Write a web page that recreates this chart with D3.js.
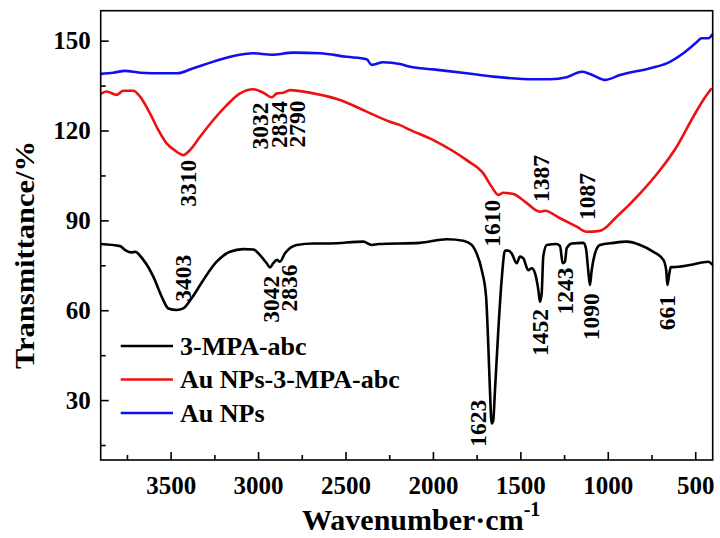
<!DOCTYPE html>
<html>
<head>
<meta charset="utf-8">
<script src="https://cdn.jsdelivr.net/npm/d3@7"></script>
<style>
  html, body { margin: 0; padding: 0; background: #fff; }
  svg { display: block; }
  text { font-family: "Liberation Serif", "Times New Roman", serif; font-weight: bold; fill: #000; }
</style>
</head>
<body>
<svg id="chart" width="720" height="538"></svg>
<script>
// ---------- data ----------
const seriesNames = ["3-MPA-abc", "Au NPs-3-MPA-abc", "Au NPs"];
const seriesColors = ["#000000", "#ee1111", "#1010ee"];

const mpaWave = [3900,3789,3760,3723,3704,3656,3599,3551,3513,3465,3428,3380,3313,3237,3161,3084,3027,2989,2951,2932,2913,2893,2875,2846,2779,2684,2589,2398,2350,2312,2074,1921,1826,1778,1759,1721,1696,1683,1674,1664,1655,1645,1626,1607,1588,1569,1550,1521,1502,1483,1455,1435,1416,1397,1388,1378,1369,1349,1292,1273,1258,1245,1235,1206,1140,1125,1112,1102,1092,1073,1045,968,892,815,739,682,666,659,648,640,625,530,425,400];
const mpaT    = [82.1,81.4,80.1,79.3,79.5,76.8,71.2,64.5,60.6,60.1,60.6,64.0,70.1,76.2,79.5,80.4,80.3,78.4,75.7,74.3,75.7,76.8,76.2,79.0,81.8,82.3,82.3,82.9,81.8,82.1,82.5,83.7,83.2,81.8,80.1,73.4,64.5,47.8,33.4,22.2,23.3,33.4,53.4,70.1,79.9,79.9,79.0,75.7,77.9,77.3,73.4,74.0,72.3,66.7,62.8,65.6,77.9,81.8,82.1,81.4,75.7,76.2,80.7,82.3,82.5,80.7,73.4,68.4,73.4,79.0,81.8,82.5,82.9,81.8,79.5,76.8,73.4,68.4,72.3,74.4,74.4,75.1,76.2,75.1];

const auMpaWave = [3900,3866,3808,3771,3714,3675,3618,3571,3523,3465,3428,3389,3332,3256,3179,3103,3027,2970,2922,2893,2856,2817,2684,2531,2379,2246,2188,2131,1998,1807,1712,1664,1626,1598,1540,1473,1388,1359,1273,1178,1121,1045,949,815,701,606,511,454,406];
const auMpaT    = [132.2,133.0,131.9,133.3,133.3,131.3,125.7,120.2,115.7,112.9,111.8,113.5,117.9,123.5,128.5,132.4,133.8,132.6,131.1,132.4,132.6,133.5,132.4,130.2,126.3,122.9,121.8,120.2,116.8,110.1,105.7,101.2,98.5,99.2,98.8,96.2,92.9,93.2,90.7,87.9,86.2,86.5,91.2,99.0,106.8,114.6,124.6,130.2,134.1];

const auWave = [3900,3828,3761,3675,3542,3465,3370,3256,3141,3027,2922,2799,2646,2493,2379,2350,2284,2188,2131,1998,1807,1655,1426,1331,1235,1149,1102,1016,930,758,663,568,499,463,425,400];
const auT    = [138.9,139.3,139.9,139.3,139.1,139.1,140.8,143.0,144.9,145.8,145.3,146.0,145.8,144.6,143.8,141.9,142.8,142.2,141.3,140.4,139.1,138.0,137.1,137.1,137.8,139.6,138.9,136.9,138.5,140.8,142.4,145.8,149.1,150.8,150.8,152.2];

const xTicks = [3500, 3000, 2500, 2000, 1500, 1000, 500];
const xMinorTicks = [3750, 3250, 2750, 2250, 1750, 1250, 750];
const yTicks = [30, 60, 90, 120, 150];
const yMinorTicks = [15, 45, 75, 105, 135];

// peak labels: [text, wavenumber position, transmittance position]
const peakLabels = [
  ["3310", 3400, 102.4],
  ["3032", 2990, 121.5],
  ["2834", 2880, 122.0],
  ["2790", 2776, 122.2],
  ["1610", 1660, 89.0],
  ["1387", 1380, 104.0],
  ["1087", 1117, 98.0],
  ["3403", 3429, 70.7],
  ["3042", 2925, 63.7],
  ["2836", 2825, 67.4],
  ["1623", 1742, 22.3],
  ["1452", 1386, 52.6],
  ["1243", 1245, 66.4],
  ["1090", 1095, 57.8],
  ["661",  663,  59.2]
];

// ---------- layout ----------
const L = 100.7, R = 712.7, T = 10.7, B = 460;
const svg = d3.select("#chart");
const x = d3.scaleLinear().domain([3900, 400]).range([L, R]);
const y = d3.scaleLinear().domain([10, 160]).range([B, T]);

// lines
const series = [
  {w: mpaWave, t: mpaT},
  {w: auMpaWave, t: auMpaT},
  {w: auWave, t: auT}
];
const line = d3.line().x(d => x(d[0])).y(d => y(d[1])).curve(d3.curveMonotoneX);
series.forEach((s, i) => {
  const pts = s.w.map((w, k) => [w, s.t[k]]);
  svg.append("path").datum(pts)
    .attr("d", line)
    .attr("fill", "none")
    .attr("stroke", seriesColors[i])
    .attr("stroke-width", 2.6)
    .attr("stroke-linejoin", "round");
});

// frame
svg.append("rect").attr("x", L).attr("y", T).attr("width", R - L).attr("height", B - T)
  .attr("fill", "none").attr("stroke", "#000").attr("stroke-width", 1.6);

// x axis
const xAxis = d3.axisBottom(x).tickValues(xTicks).tickSize(-8).tickPadding(16).tickFormat(d3.format("d"));
const gx = svg.append("g").attr("transform", `translate(0,${B})`).call(xAxis);
gx.select(".domain").remove();
gx.selectAll(".tick line").attr("stroke", "#000").attr("stroke-width", 1.6);
gx.selectAll(".tick text").attr("font-size", 25).attr("font-family", "Liberation Serif, serif").attr("font-weight", "bold").attr("dy", "0.71em");
const xAxisMinor = d3.axisBottom(x).tickValues(xMinorTicks).tickSize(-5).tickFormat("");
const gxm = svg.append("g").attr("transform", `translate(0,${B})`).call(xAxisMinor);
gxm.select(".domain").remove();
gxm.selectAll(".tick line").attr("stroke", "#000").attr("stroke-width", 1.6);

// y axis
const yAxis = d3.axisLeft(y).tickValues(yTicks).tickSize(-8).tickPadding(10).tickFormat(d3.format("d"));
const gy = svg.append("g").attr("transform", `translate(${L},0)`).call(yAxis);
gy.select(".domain").remove();
gy.selectAll(".tick line").attr("stroke", "#000").attr("stroke-width", 1.6);
gy.selectAll(".tick text").attr("font-size", 25).attr("font-family", "Liberation Serif, serif").attr("font-weight", "bold");
const yAxisMinor = d3.axisLeft(y).tickValues(yMinorTicks).tickSize(-5).tickFormat("");
const gym = svg.append("g").attr("transform", `translate(${L},0)`).call(yAxisMinor);
gym.select(".domain").remove();
gym.selectAll(".tick line").attr("stroke", "#000").attr("stroke-width", 1.6);

// axis titles
const xt = svg.append("text").attr("x", 302).attr("y", 530).attr("font-size", 30);
xt.append("tspan").text("Wavenumber·cm");
xt.append("tspan").attr("font-size", 20).attr("dy", -14).text("-1");

svg.append("text")
  .attr("transform", `translate(34,255) rotate(-90)`)
  .attr("text-anchor", "middle")
  .attr("font-size", 28)
  .attr("textLength", 228)
  .attr("lengthAdjust", "spacingAndGlyphs")
  .text("Transmittance/%");

// peak labels
svg.append("g").selectAll("text").data(peakLabels).join("text")
  .attr("transform", d => `translate(${x(d[1])},${y(d[2])}) rotate(-90)`)
  .attr("text-anchor", "middle")
  .attr("dominant-baseline", "central")
  .attr("font-size", 23.5)
  .text(d => d[0]);

// legend
const legendY = [346, 379.5, 413];
const lg = svg.append("g");
seriesNames.forEach((name, i) => {
  lg.append("line").attr("x1", 120.7).attr("x2", 173).attr("y1", legendY[i]).attr("y2", legendY[i])
    .attr("stroke", seriesColors[i]).attr("stroke-width", 2.6);
  lg.append("text").attr("x", 180).attr("y", legendY[i] + 8.5).attr("font-size", 26).text(name);
});
</script>
</body>
</html>
